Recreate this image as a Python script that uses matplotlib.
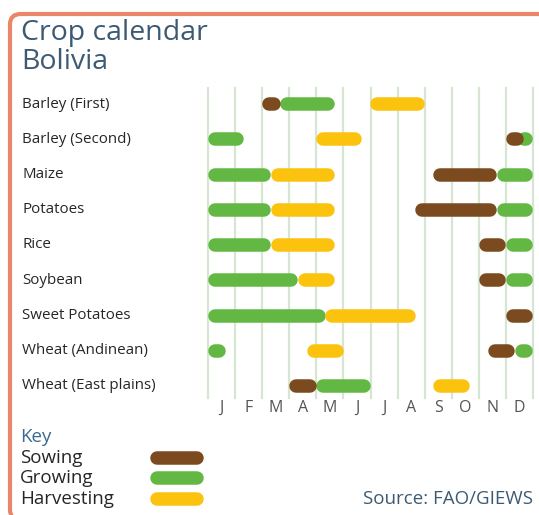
import matplotlib
matplotlib.use("Agg")
import matplotlib.pyplot as plt
from matplotlib.lines import Line2D
from matplotlib.patches import FancyBboxPatch
import matplotlib.transforms as mtransforms

plt.rcParams["font.family"] = ["Open Sans", "DejaVu Sans"]

crops = ["Barley (First)", "Barley (Second)", "Maize", "Potatoes", "Rice",
         "Soybean", "Sweet Potatoes", "Wheat (Andinean)", "Wheat (East plains)"]
months = ["J", "F", "M", "A", "M", "J", "J", "A", "S", "O", "N", "D"]

# (start, end) in months from 1 January, per stage
sowing = [
    [(2.0, 2.67)],
    [(11.0, 11.67)],
    [(8.33, 10.67)],
    [(7.67, 10.67)],
    [(10.0, 11.0)],
    [(10.0, 11.0)],
    [(11.0, 12.0)],
    [(10.33, 11.33)],
    [(3.0, 4.0)],
]
growing = [
    [(2.67, 4.67)],
    [(0.0, 1.33), (11.4, 12.0)],
    [(0.0, 2.33), (10.67, 12.0)],
    [(0.0, 2.33), (10.67, 12.0)],
    [(0.0, 2.33), (11.0, 12.0)],
    [(0.0, 3.33), (11.0, 12.0)],
    [(0.0, 4.33)],
    [(0.0, 0.67), (11.33, 12.0)],
    [(4.0, 6.0)],
]
harvesting = [
    [(6.0, 8.0)],
    [(4.0, 5.67)],
    [(2.33, 4.67)],
    [(2.33, 4.67)],
    [(2.33, 4.67)],
    [(3.33, 4.67)],
    [(4.33, 7.67)],
    [(3.67, 5.0)],
    [(8.33, 9.67)],
]

BROWN = "#7b4a1f"
GREEN = "#62b843"
YELLOW = "#fcc30e"
TITLE_C = "#3d5a73"
TEXT_C = "#262626"

W, H = 539, 515
fig = plt.figure(figsize=(W / 100, H / 100), dpi=100)

# frame (right and bottom edges fall outside the picture)
frame = FancyBboxPatch((10 / W, 1 - 520 / H), 600 / W, (520 - 14) / H,
                       boxstyle="round,pad=0,rounding_size=0.02",
                       transform=fig.transFigure, fill=False,
                       edgecolor="#e9866a", linewidth=3, clip_on=False)
fig.add_artist(frame)

# chart area: months 0..12 -> 208..533 px
x0, x1 = 208, 533
px_per_month = (x1 - x0) / 12
row0, row_step = 104, 35.25
top_px, bot_px = 88, 398
ax = fig.add_axes([x0 / W, 1 - bot_px / H, (x1 - x0) / W, (bot_px - top_px) / H])
ax.set_xlim(0, 12)
ax.set_ylim((bot_px - row0) / row_step, (top_px - row0) / row_step)
ax.axis("off")

for i in range(13):
    ax.axvline(i, color="#d7e6d2", linewidth=1.6, zorder=1, clip_on=False)

bar_px = 13.5
lw = bar_px * 72 / 100
d = (bar_px / 2) / px_per_month

for stage, color, z in [(growing, GREEN, 3), (sowing, BROWN, 4), (harvesting, YELLOW, 3.5)]:
    for i, segs in enumerate(stage):
        for a, b in segs:
            xs = [a + d, max(b - d, a + d + 0.01)]
            ax.plot(xs, [i, i], color=color, linewidth=lw,
                    solid_capstyle="round", zorder=z, clip_on=False)

lab_tr = mtransforms.blended_transform_factory(fig.transFigure, ax.transData)
for i, name in enumerate(crops):
    ax.text(22 / W, i, name, transform=lab_tr, ha="left", va="center",
            fontsize=10.9, color=TEXT_C)

m_y = (408 - row0) / row_step
for i, m in enumerate(months):
    ax.text(i + 0.5, m_y, m, ha="center", va="center", fontsize=11.5,
            color="#555555", clip_on=False)

# title
fig.text(21 / W, 1 - 33 / H, "Crop calendar", fontsize=20.5, color=TITLE_C,
         ha="left", va="center")
fig.text(21 / W, 1 - 62 / H, "Bolivia", fontsize=20.5, color=TITLE_C,
         ha="left", va="center")

# key
fig.text(20 / W, 1 - 437 / H, "Key", fontsize=13.5, color="#3a6a90",
         ha="left", va="center")
for label, color, ypx in [("Sowing", BROWN, 458), ("Growing", GREEN, 478),
                          ("Harvesting", YELLOW, 499)]:
    fig.text(20 / W, 1 - ypx / H, label, fontsize=13.5, color=TEXT_C,
             ha="left", va="center")
    fig.add_artist(Line2D([(150 + 6.5) / W, (203 - 6.5) / W],
                          [1 - ypx / H, 1 - ypx / H], color=color,
                          linewidth=lw, solid_capstyle="round",
                          transform=fig.transFigure))

fig.text(533 / W, 1 - 499 / H, "Source: FAO/GIEWS", fontsize=13.5,
         color=TITLE_C, ha="right", va="center")

fig.savefig("out.png", dpi=100)
